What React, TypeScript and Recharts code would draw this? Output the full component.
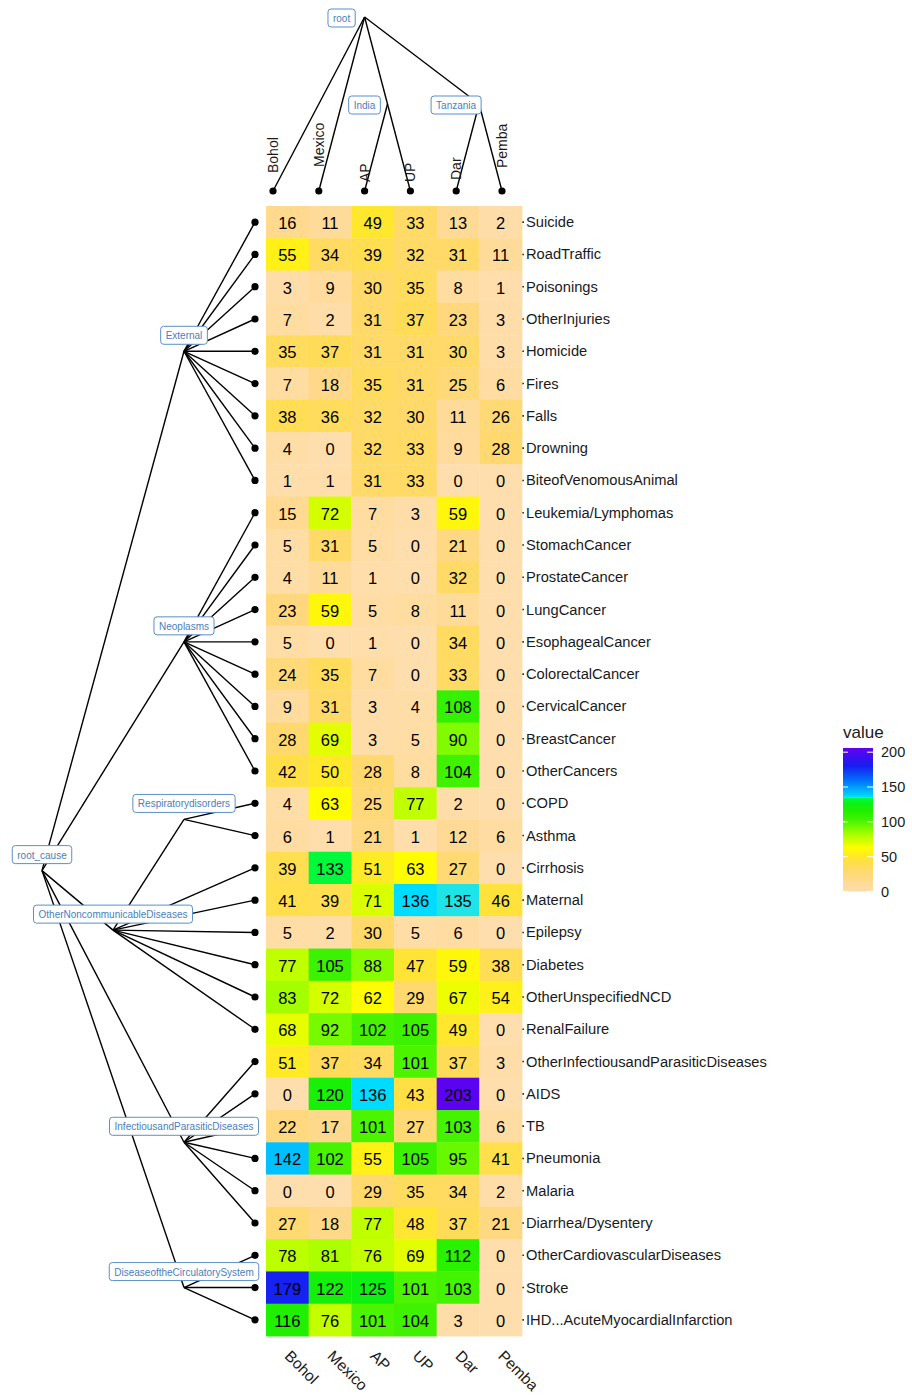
import { useLayoutEffect, useRef, useState } from 'react';
import { Scatter, ScatterChart, XAxis, YAxis } from 'recharts';

type TreeNode = { name: string; children?: TreeNode[] };
type Placed = { name: string; h: number; pos: number; leaf: boolean };

const sites = ['Bohol', 'Mexico', 'AP', 'UP', 'Dar', 'Pemba'];

const causes = [
  'Suicide', 'RoadTraffic', 'Poisonings', 'OtherInjuries', 'Homicide', 'Fires', 'Falls', 'Drowning',
  'BiteofVenomousAnimal', 'Leukemia/Lymphomas', 'StomachCancer', 'ProstateCancer', 'LungCancer',
  'EsophagealCancer', 'ColorectalCancer', 'CervicalCancer', 'BreastCancer', 'OtherCancers', 'COPD', 'Asthma',
  'Cirrhosis', 'Maternal', 'Epilepsy', 'Diabetes', 'OtherUnspecifiedNCD', 'RenalFailure',
  'OtherInfectiousandParasiticDiseases', 'AIDS', 'TB', 'Pneumonia', 'Malaria', 'Diarrhea/Dysentery',
  'OtherCardiovascularDiseases', 'Stroke', 'IHD...AcuteMyocardialInfarction',
];

// one list per site, same order as causes
const bohol = [16, 55, 3, 7, 35, 7, 38, 4, 1, 15, 5, 4, 23, 5, 24, 9, 28, 42, 4, 6, 39, 41, 5, 77, 83, 68, 51, 0, 22, 142, 0, 27, 78, 179, 116];
const mexico = [11, 34, 9, 2, 37, 18, 36, 0, 1, 72, 31, 11, 59, 0, 35, 31, 69, 50, 63, 1, 133, 39, 2, 105, 72, 92, 37, 120, 17, 102, 0, 18, 81, 122, 76];
const ap = [49, 39, 30, 31, 31, 35, 32, 32, 31, 7, 5, 1, 5, 1, 7, 3, 3, 28, 25, 21, 51, 71, 30, 88, 62, 102, 34, 136, 101, 55, 29, 77, 76, 125, 101];
const up = [33, 32, 35, 37, 31, 31, 30, 33, 33, 3, 0, 0, 8, 0, 0, 4, 5, 8, 77, 1, 63, 136, 5, 47, 29, 105, 101, 43, 27, 105, 35, 48, 69, 101, 104];
const dar = [13, 31, 8, 23, 30, 25, 11, 9, 0, 59, 21, 32, 11, 34, 33, 108, 90, 104, 2, 12, 27, 135, 6, 59, 67, 49, 37, 203, 103, 95, 34, 37, 112, 103, 3];
const pemba = [2, 11, 1, 3, 3, 6, 26, 28, 0, 0, 0, 0, 0, 0, 0, 0, 0, 0, 0, 6, 0, 46, 0, 38, 54, 0, 3, 0, 6, 41, 2, 21, 0, 0, 0];
const siteValues = [bohol, mexico, ap, up, dar, pemba];

const leaves = (names: string[]): TreeNode[] => names.map((name) => ({ name }));

const causeTree: TreeNode = {
  name: 'root_cause',
  children: [
    { name: 'External', children: leaves(causes.slice(0, 9)) },
    { name: 'Neoplasms', children: leaves(causes.slice(9, 18)) },
    {
      name: 'OtherNoncommunicableDiseases',
      children: [
        { name: 'Respiratorydisorders', children: leaves(['COPD', 'Asthma']) },
        ...leaves(['Cirrhosis', 'Maternal', 'Epilepsy', 'Diabetes', 'OtherUnspecifiedNCD', 'RenalFailure']),
      ],
    },
    { name: 'InfectiousandParasiticDiseases', children: leaves(causes.slice(26, 32)) },
    { name: 'DiseaseoftheCirculatorySystem', children: leaves(causes.slice(32)) },
  ],
};

const siteTree: TreeNode = {
  name: 'root',
  children: [
    { name: 'Bohol' },
    { name: 'Mexico' },
    { name: 'India', children: leaves(['AP', 'UP']) },
    { name: 'Tanzania', children: leaves(['Dar', 'Pemba']) },
  ],
};

// how far above its dot each site name ends
const siteLabelLift = [18, 24, 9, 9, 11, 23];

// dendrogram layout: leaves at height 0, parents one above their tallest child, centred on children
function layoutTree(root: TreeNode, order: string[]) {
  const nodes: Placed[] = [];
  const edges: [Placed, Placed][] = [];
  const walk = (n: TreeNode): Placed => {
    if (!n.children) {
      const p = { name: n.name, h: 0, pos: order.indexOf(n.name), leaf: true };
      nodes.push(p);
      return p;
    }
    const kids = n.children.map(walk);
    const p = {
      name: n.name,
      h: Math.max(...kids.map((k) => k.h)) + 1,
      pos: kids.reduce((s, k) => s + k.pos, 0) / kids.length,
      leaf: false,
    };
    kids.forEach((k) => edges.push([p, k]));
    nodes.push(p);
    return p;
  };
  walk(root);
  return { nodes, edges };
}

const causeLayout = layoutTree(causeTree, causes);
const siteLayout = layoutTree(siteTree, sites);

const cells = siteValues.flatMap((col, c) => col.map((value, r) => ({ col: c, row: r, value })));

const FONT = '"Liberation Sans", Arial, Helvetica, sans-serif';
const PLOT_LEFT = 266;
const PLOT_RIGHT = 522;
const PLOT_TOP = 206;
const PLOT_BOTTOM = 1336;
const CELL_W = (PLOT_RIGHT - PLOT_LEFT) / sites.length;
const CELL_H = (PLOT_BOTTOM - PLOT_TOP) / causes.length;

const fillStops: [number, number[]][] = [
  [0, [255, 222, 173]],
  [10, [255, 219, 155]],
  [20, [255, 216, 132]],
  [33, [255, 218, 100]],
  [45, [255, 225, 62]],
  [55, [255, 240, 22]],
  [63, [255, 253, 0]],
  [72, [212, 255, 0]],
  [80, [178, 255, 0]],
  [92, [118, 250, 0]],
  [104, [62, 242, 0]],
  [116, [32, 240, 0]],
  [125, [14, 240, 18]],
  [133.5, [0, 250, 62]],
  [134.5, [45, 232, 220]],
  [136, [0, 220, 255]],
  [142, [0, 192, 255]],
  [160, [0, 110, 250]],
  [180, [22, 30, 240]],
  [206, [100, 0, 240]],
];
const LEGEND_MAX = 206;

const rgb = (c: number[]) => `rgb(${c.map((v) => Math.round(v)).join(',')})`;

function fillFor(v: number) {
  for (let i = 1; i < fillStops.length; i++) {
    const [v1, c1] = fillStops[i];
    if (v <= v1) {
      const [v0, c0] = fillStops[i - 1];
      const t = (v - v0) / (v1 - v0);
      return rgb(c0.map((a, k) => a + (c1[k] - a) * t));
    }
  }
  return rgb(fillStops[fillStops.length - 1][1]);
}

const renderCell = (props: any) => {
  const { cx, cy, payload } = props;
  return (
    <g>
      <rect x={cx - CELL_W / 2} y={cy - CELL_H / 2} width={CELL_W + 0.4} height={CELL_H + 0.4} fill={fillFor(payload.value)} />
      <text x={cx} y={cy + 1} textAnchor="middle" dominantBaseline="central" fontSize={16.5} fill="#000">
        {payload.value}
      </text>
    </g>
  );
};

const CauseTick = (props: any) => (
  <text x={props.x} y={props.y} dominantBaseline="central" fontSize={14.7} fill="#1a1a1a">
    {causes[props.payload.value]}
  </text>
);

const SiteTick = (props: any) => (
  <text transform={`translate(${props.x - 3.5},${props.y + 21}) rotate(45)`} fontSize={15.5} fill="#1a1a1a">
    {sites[props.payload.value]}
  </text>
);

function NodeLabel({ x, y, name }: { x: number; y: number; name: string }) {
  const ref = useRef<SVGTextElement>(null);
  const [w, setW] = useState(name.length * 5);
  useLayoutEffect(() => {
    if (ref.current) setW(ref.current.getComputedTextLength());
  }, [name]);
  const bw = w + 10;
  const bh = 18;
  return (
    <g>
      <rect x={x - bw / 2} y={y - bh / 2} width={bw} height={bh} rx={3} fill="#fff" stroke="#5b8fc7" strokeWidth={1} />
      <text ref={ref} x={x} y={y + 0.5} textAnchor="middle" dominantBaseline="central" fontSize={10} fill="#4a80bb">
        {name}
      </text>
    </g>
  );
}

const emptyShape = () => <g />;
const edgeLine = { stroke: '#000', strokeWidth: 1.4 };
const leafDot = (props: any) => <circle cx={props.cx} cy={props.cy} r={3.6} fill="#000" />;
const tickDot = { stroke: '#333', strokeWidth: 1.6 };

const layer = { position: 'absolute' as const, left: 0, top: 0 };

export default function App() {
  const causeInner = causeLayout.nodes.filter((n) => !n.leaf);
  const causeLeaves = causeLayout.nodes.filter((n) => n.leaf);
  const siteInner = siteLayout.nodes.filter((n) => !n.leaf);
  const siteLeaves = siteLayout.nodes.filter((n) => n.leaf);
  const rowTicks = causes.map((_, i) => i);
  const colTicks = sites.map((_, i) => i);
  const legendTop = 748;
  const legendBottom = 891.5;
  const legendY = (v: number) => legendBottom - (v / LEGEND_MAX) * (legendBottom - legendTop);

  return (
    <div style={{ ...layer, width: 912, height: 1395, background: '#fff', fontFamily: FONT }}>
      {/* heatmap */}
      <div style={layer}>
        <ScatterChart width={912} height={1395} margin={{ top: PLOT_TOP, right: 130, bottom: 9, left: 262 }}>
          <XAxis
            type="number"
            dataKey="col"
            domain={[-0.5, sites.length - 0.5]}
            ticks={colTicks}
            interval={0}
            height={50}
            tickSize={0}
            tickMargin={0}
            axisLine={false}
            tickLine={false}
            tick={<SiteTick />}
          />
          <YAxis
            yAxisId="right"
            orientation="right"
            type="number"
            dataKey="row"
            reversed
            domain={[-0.5, causes.length - 0.5]}
            ticks={rowTicks}
            interval={0}
            width={260}
            tickSize={2}
            tickMargin={2}
            axisLine={false}
            tickLine={tickDot}
            tick={<CauseTick />}
          />
          <YAxis
            yAxisId="left"
            orientation="left"
            type="number"
            dataKey="row"
            reversed
            domain={[-0.5, causes.length - 0.5]}
            ticks={rowTicks}
            interval={0}
            width={4}
            tickSize={2}
            tickMargin={0}
            axisLine={false}
            tickLine={tickDot}
            tick={emptyShape}
          />
          <Scatter yAxisId="right" data={cells} shape={renderCell} isAnimationActive={false} />
        </ScatterChart>
      </div>

      {/* cause dendrogram */}
      <div style={layer}>
        <ScatterChart width={912} height={1395} margin={{ top: PLOT_TOP, right: 657, bottom: 1395 - PLOT_BOTTOM, left: 42 }}>
          <XAxis type="number" dataKey="h" domain={[0, 3]} reversed hide />
          <YAxis type="number" dataKey="pos" domain={[-0.5, causes.length - 0.5]} reversed hide />
          {causeLayout.edges.map(([a, b], i) => (
            <Scatter key={`ce${i}`} data={[a, b]} line={edgeLine} shape={emptyShape} isAnimationActive={false} />
          ))}
          <Scatter data={causeLeaves} shape={leafDot} isAnimationActive={false} />
          <Scatter
            data={causeInner}
            shape={(p: any) => <NodeLabel x={p.cx} y={p.cy - 16} name={p.payload.name} />}
            isAnimationActive={false}
          />
        </ScatterChart>
      </div>

      {/* site dendrogram */}
      <div style={layer}>
        <ScatterChart width={912} height={1395} margin={{ top: 17, right: 410, bottom: 1204, left: 273 }}>
          <XAxis type="number" dataKey="pos" domain={[0, sites.length - 1]} hide />
          <YAxis type="number" dataKey="h" domain={[0, 2]} hide />
          {siteLayout.edges.map(([a, b], i) => (
            <Scatter key={`se${i}`} data={[a, b]} line={edgeLine} shape={emptyShape} isAnimationActive={false} />
          ))}
          <Scatter
            data={siteLeaves}
            shape={(p: any) => (
              <g>
                <circle cx={p.cx} cy={p.cy} r={3.6} fill="#000" />
                <text
                  transform={`translate(${p.cx + 5},${p.cy - siteLabelLift[p.payload.pos]}) rotate(-90)`}
                  fontSize={14}
                  fill="#1a1a1a"
                >
                  {p.payload.name}
                </text>
              </g>
            )}
            isAnimationActive={false}
          />
          <Scatter
            data={siteInner}
            shape={(p: any) => <NodeLabel x={p.cx - 23} y={p.cy + 1} name={p.payload.name} />}
            isAnimationActive={false}
          />
        </ScatterChart>
      </div>

      {/* colour bar */}
      <svg width={912} height={1395} style={layer}>
        <defs>
          <linearGradient id="valueFill" x1="0" y1="1" x2="0" y2="0">
            {fillStops.map(([v, c]) => (
              <stop key={v} offset={v / LEGEND_MAX} stopColor={rgb(c)} />
            ))}
          </linearGradient>
        </defs>
        <text x={843} y={738} fontSize={17} fill="#1a1a1a">value</text>
        <rect x={843} y={legendTop} width={30} height={legendBottom - legendTop} fill="url(#valueFill)" />
        {[0, 50, 100, 150, 200].map((v) => (
          <g key={v}>
            <line x1={843} x2={848} y1={legendY(v)} y2={legendY(v)} stroke="#fff" strokeWidth={1} />
            <line x1={867} x2={873} y1={legendY(v)} y2={legendY(v)} stroke="#fff" strokeWidth={1} />
            <text x={881} y={legendY(v)} dominantBaseline="central" fontSize={14.5} fill="#1a1a1a">
              {v}
            </text>
          </g>
        ))}
      </svg>
    </div>
  );
}
